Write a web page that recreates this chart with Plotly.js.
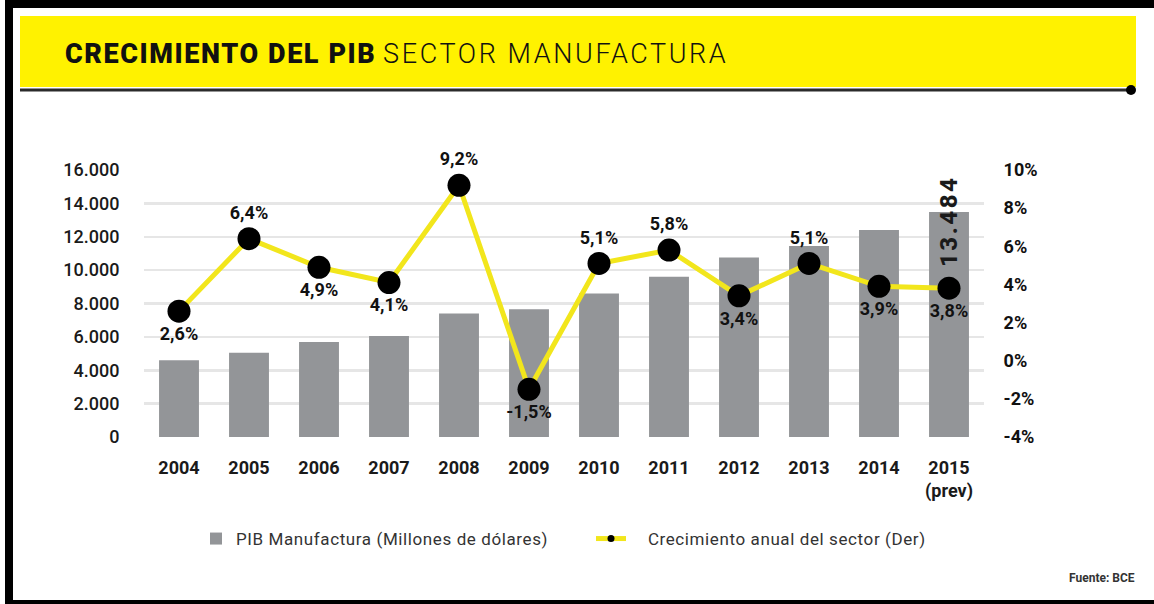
<!DOCTYPE html>
<html>
<head>
<meta charset="utf-8">
<script src="https://cdn.plot.ly/plotly-3.0.1.min.js"></script>
<style>
html,body{margin:0;padding:0;background:#ffffff;}
#chart{width:1154px;height:604px;}
</style>
</head>
<body>
<div id="chart"></div>
<script>
// ---- data ----
const years = ['2004','2005','2006','2007','2008','2009','2010','2011','2012','2013','2014','2015'];
const yearLabels = ['2004','2005','2006','2007','2008','2009','2010','2011','2012','2013','2014','2015<br>(prev)'];
const pib = [4600, 5050, 5700, 6050, 7400, 7650, 8600, 9600, 10750, 11450, 12400, 13484];
const growth = [2.6, 6.4, 4.9, 4.1, 9.2, -1.5, 5.1, 5.8, 3.4, 5.1, 3.9, 3.8];
const growthLabelPos = ['bottom center','top center','bottom center','bottom center','top center','bottom center',
                        'top center','top center','bottom center','top center','bottom center','bottom center'];
const leftTicks = [0, 2000, 4000, 6000, 8000, 10000, 12000, 14000, 16000];
const rightTicks = [-4, -2, 0, 2, 4, 6, 8, 10];
const rightTickLabels = ['-4%', '-2%', '0%', '2%', '4%', '6%', '8%', '10%'];
const lastBarLabel = '13.484';
const barName = 'PIB Manufactura (Millones de dólares)';
const lineName = 'Crecimiento anual del sector (Der)';
const titleBold = 'CRECIMIENTO DEL PIB';
const titleLight = 'SECTOR MANUFACTURA';
const source = 'Fuente: BCE';

// ---- geometry helpers (page px -> paper coords) ----
const W = 1154, H = 604;
const L = 144, R = 984, T = 170, B = 437;
const px = x => (x - L) / (R - L);
const py = y => (B - y) / (B - T);

const growthText = growth.map(v => v.toFixed(1).replace('.', ',') + '%');
const lastIdx = years.length - 1;
const spaced = (s, ls) => '<span style="letter-spacing:' + ls + 'px">' + s + '</span>';

const FONT = 'Roboto, "Open Sans", sans-serif';

const traces = [
  {
    type: 'bar', x: years, y: pib, name: spaced(barName, 0.6),
    marker: {color: '#939598', line: {width: 0}},
    hoverinfo: 'x+y'
  },
  {
    type: 'scatter', mode: 'lines+markers+text', x: years, y: growth, yaxis: 'y2',
    name: lineName, showlegend: false,
    line: {color: '#f2e61c', width: 5},
    marker: {color: '#000000', size: 23},
    text: growthText, textposition: growthLabelPos,
    textfont: {family: FONT, size: 18, color: '#111111', weight: 700},
    cliponaxis: false
  },
  {
    type: 'scatter', mode: 'lines+markers', x: [null], y: [null], yaxis: 'y2',
    name: '\u00a0\u00a0\u00a0\u00a0' + spaced(lineName, 0.6), showlegend: true,
    line: {color: '#f2e61c', width: 5},
    marker: {color: '#000000', size: 7}
  }
];

const shapes = [
  {type: 'rect', xref: 'paper', yref: 'paper', x0: px(20), x1: px(1136), y0: py(16), y1: py(87),
   fillcolor: '#fff200', line: {width: 0}, layer: 'below'},
  {type: 'line', xref: 'paper', yref: 'paper', x0: px(20), x1: px(1131), y0: py(90), y1: py(90),
   line: {color: '#2b2b2b', width: 3}},
  {type: 'circle', xref: 'paper', yref: 'paper', x0: px(1126), x1: px(1136), y0: py(85), y1: py(95),
   fillcolor: '#000', line: {width: 0}},
  {type: 'rect', xref: 'paper', yref: 'paper', x0: px(5), x1: px(1154), y0: py(0), y1: py(8),
   fillcolor: '#000', line: {width: 0}},
  {type: 'rect', xref: 'paper', yref: 'paper', x0: px(5), x1: px(13), y0: py(0), y1: py(604),
   fillcolor: '#000', line: {width: 0}},
  {type: 'rect', xref: 'paper', yref: 'paper', x0: px(5), x1: px(1154), y0: py(600), y1: py(604),
   fillcolor: '#000', line: {width: 0}}
];

const annotations = [
  {xref: 'paper', yref: 'paper', x: px(63), y: py(54), xanchor: 'left', yanchor: 'middle', showarrow: false,
   text: '<span style="font-weight:900;letter-spacing:1.6px">' + titleBold + '</span> <span style="font-weight:300;letter-spacing:2.6px">' + titleLight + '</span>',
   font: {family: FONT, size: 27, color: '#111111'}},
  {xref: 'x', yref: 'y', x: lastIdx, y: pib[lastIdx], yshift: -10, textangle: -90, showarrow: false,
   xanchor: 'center', yanchor: 'middle', text: spaced(lastBarLabel, 2.5),
   font: {family: FONT, size: 24, color: '#1a1a1a', weight: 800}},
  {xref: 'paper', yref: 'paper', x: px(1137), y: py(578), xanchor: 'right', yanchor: 'middle', showarrow: false,
   text: source, font: {family: FONT, size: 12, color: '#333333', weight: 700}}
];

const layout = {
  width: W, height: H,
  margin: {l: L, r: W - R, t: T, b: H - B, pad: 0},
  paper_bgcolor: '#ffffff', plot_bgcolor: '#ffffff',
  separators: ',.',
  font: {family: FONT, color: '#1a1a1a'},
  bargap: 0.43,
  showlegend: true,
  legend: {orientation: 'h', x: px(196), y: py(539), xanchor: 'left', yanchor: 'middle',
           font: {family: FONT, size: 17, color: '#333333'}, entrywidth: 350, bgcolor: 'rgba(0,0,0,0)'},
  xaxis: {type: 'category', tickvals: years, ticktext: yearLabels, range: [-0.5, 11.5],
          showgrid: false, zeroline: false, showline: false,
          ticks: 'outside', ticklen: 14, tickcolor: 'rgba(0,0,0,0)',
          tickfont: {family: FONT, size: 18, color: '#1a1a1a', weight: 700}},
  yaxis: {range: [0, 16000], tickvals: leftTicks, tickformat: ',d',
          showgrid: true, gridcolor: '#e6e6e6', gridwidth: 2.5, zeroline: false, showline: false,
          ticks: 'outside', ticklen: 20, tickcolor: 'rgba(0,0,0,0)',
          tickfont: {family: FONT, size: 18, color: '#1a1a1a', weight: 500}},
  yaxis2: {overlaying: 'y', side: 'right', range: [-4, 10], tickvals: rightTicks, ticktext: rightTickLabels,
           showgrid: false, zeroline: false, showline: false,
           ticks: 'outside', ticklen: 15, tickcolor: 'rgba(0,0,0,0)',
           tickfont: {family: FONT, size: 18, color: '#111111', weight: 700}},
  shapes: shapes,
  annotations: annotations
};

Plotly.newPlot('chart', traces, layout, {displayModeBar: false, staticPlot: true});
</script>
</body>
</html>
